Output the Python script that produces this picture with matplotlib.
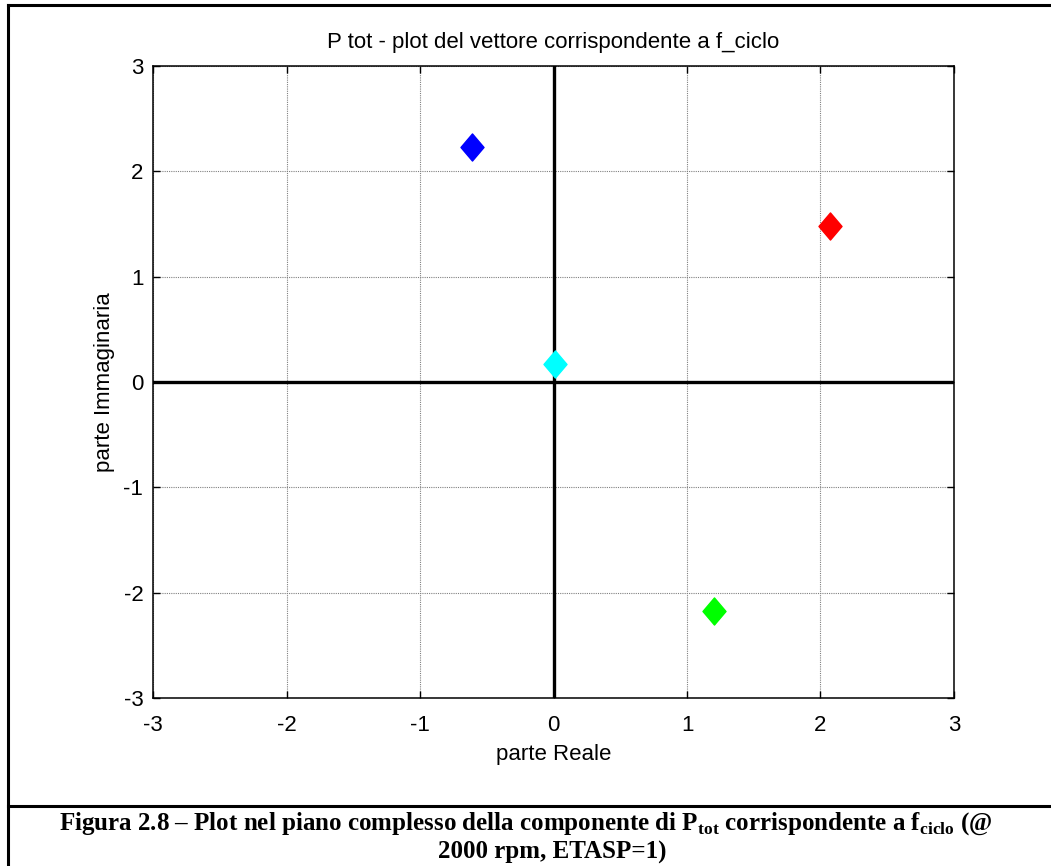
"""
Plot nel piano complesso della componente di P_tot a f_ciclo (2000 rpm, ETASP=1).
"""

import matplotlib
matplotlib.use("Agg")
import matplotlib.pyplot as plt
from matplotlib.lines import Line2D
from matplotlib.path import Path as MPath

plt.rcParams["font.family"] = ["Liberation Sans", "DejaVu Sans"]
plt.rcParams["mathtext.fontset"] = "custom"
plt.rcParams["mathtext.rm"] = "Liberation Serif:bold"
plt.rcParams["mathtext.bf"] = "Liberation Serif:bold"

# valori (parte reale, parte immaginaria)
parte_reale = [-0.61, 2.07, 1.20, 0.01]
parte_immag = [2.23, 1.48, -2.17, 0.17]
colori = ["#0000ff", "#ff0000", "#00ff00", "#00ffff"]
tick_vals = [-3, -2, -1, 0, 1, 2, 3]

# rombo un po' piu' alto che largo, come in MATLAB
rombo = MPath([(0, 1), (0.85, 0), (0, -1), (-0.85, 0), (0, 1)],
              [MPath.MOVETO, MPath.LINETO, MPath.LINETO, MPath.LINETO, MPath.CLOSEPOLY])

fig = plt.figure(figsize=(10.51, 8.66), dpi=100)
ax = fig.add_axes([0.1456, 0.194, 0.7621, 0.7298])

ax.axhline(0, color="black", lw=2.4, zorder=2)
ax.axvline(0, color="black", lw=2.4, zorder=2)
for xr, yi, c in zip(parte_reale, parte_immag, colori):
    ax.plot(xr, yi, linestyle="none", marker=rombo, markersize=19.5,
            color=c, markeredgecolor=c, zorder=3)

ax.set_xlim(-3, 3)
ax.set_ylim(-3, 3)
ax.set_xticks(tick_vals)
ax.set_yticks(tick_vals)
ax.set_xticklabels([str(v) for v in tick_vals])
ax.set_yticklabels([str(v) for v in tick_vals])
ax.grid(True, color="#808080", linestyle=(0, (1, 1)), linewidth=0.8)
ax.tick_params(direction="in", length=5, width=1, top=True, right=True,
               labelsize=16)
ax.tick_params(axis="x", pad=12)
ax.tick_params(axis="y", pad=7)
for sp in ax.spines.values():
    sp.set_linewidth(1.1)

ax.set_title("P tot - plot del vettore corrispondente a f_ciclo", fontsize=16, pad=13)
ax.set_xlabel("parte Reale", fontsize=16, labelpad=6)
ax.set_ylabel("parte Immaginaria", fontsize=16, labelpad=6)

# cornice della figura e didascalia
fig.add_artist(Line2D([0.0076, 1.0], [0.9942, 0.9942], color="black", lw=2.2,
                      transform=fig.transFigure))
fig.add_artist(Line2D([0.0076, 0.0076], [0.9942, 0.0], color="black", lw=2.2,
                      transform=fig.transFigure))
fig.add_artist(Line2D([0.0076, 1.0], [0.0693, 0.0693], color="black", lw=2.2,
                      transform=fig.transFigure))

fig.text(0.5, 0.0495,
         r"Figura 2.8 – Plot nel piano complesso della componente di P$_{\mathrm{tot}}$"
         r" corrispondente a f$_{\mathrm{ciclo}}$ (@",
         ha="center", va="center", fontsize=18, fontweight="bold",
         family="Liberation Serif")
fig.text(0.525, 0.016, "2000 rpm, ETASP=1)", ha="center", va="center",
         fontsize=18, fontweight="bold", family="Liberation Serif")

fig.savefig("out.png", dpi=100)
